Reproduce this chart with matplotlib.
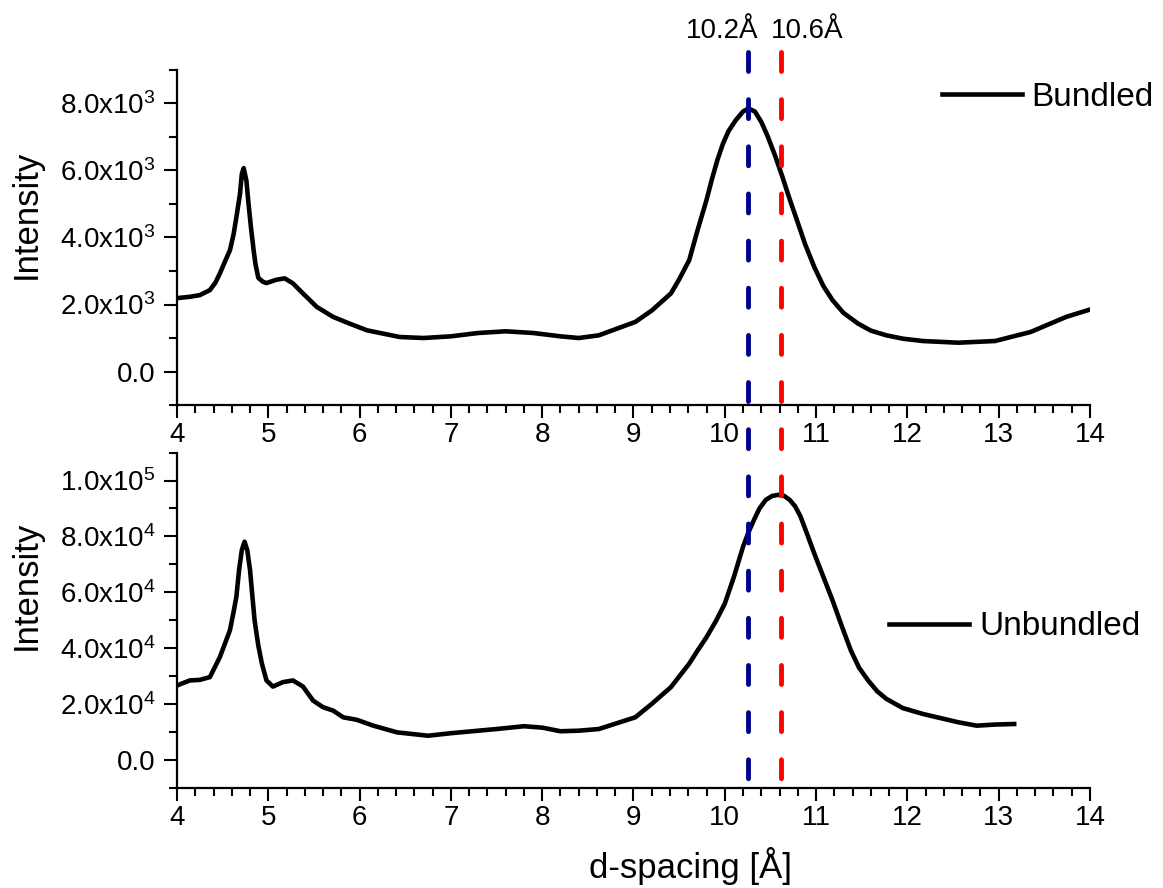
import numpy as np
import matplotlib
matplotlib.use("Agg")
import matplotlib.pyplot as plt
from matplotlib.ticker import MultipleLocator, FuncFormatter
from matplotlib.lines import Line2D
import matplotlib.transforms as mtransforms

plt.rcParams['font.family'] = ['Liberation Sans', 'DejaVu Sans']

# Bundled sample
d_bundled = [4.00, 4.14, 4.25, 4.36, 4.42, 4.47, 4.52, 4.58, 4.62, 4.65, 4.69, 4.71,
             4.73, 4.76, 4.78, 4.81, 4.84, 4.86, 4.89, 4.94, 4.98, 5.09, 5.18, 5.27,
             5.38, 5.53, 5.71, 5.89, 6.08, 6.44, 6.70, 7.00, 7.30, 7.60, 7.90, 8.20,
             8.40, 8.62, 9.02, 9.20, 9.41, 9.50, 9.61, 9.70, 9.80, 9.86, 9.92, 9.98,
             10.04, 10.12, 10.20, 10.26, 10.33, 10.40, 10.47, 10.55, 10.63, 10.71,
             10.79, 10.88, 10.98, 11.08, 11.18, 11.30, 11.46, 11.60, 11.77, 11.95,
             12.17, 12.56, 12.96, 13.35, 13.74, 14.00]
i_bundled = [2190, 2230, 2280, 2430, 2650, 2930, 3250, 3620, 4100, 4600, 5300, 5900,
             6070, 5700, 5100, 4300, 3600, 3200, 2800, 2680, 2640, 2740, 2780, 2630,
             2330, 1930, 1630, 1430, 1230, 1030, 1000, 1050, 1150, 1200, 1150, 1050,
             1000, 1080, 1480, 1820, 2330, 2750, 3320, 4200, 5120, 5750, 6320, 6800,
             7170, 7500, 7760, 7850, 7760, 7450, 7020, 6450, 5820, 5150,
             4520, 3800, 3120, 2550, 2130, 1750, 1430, 1220, 1080, 980,
             910, 860, 910, 1180, 1630, 1850]

# Unbundled sample
d_unbundled = [4.00, 4.14, 4.25, 4.36, 4.47, 4.58, 4.62, 4.65, 4.68, 4.71, 4.74, 4.77,
               4.80, 4.83, 4.85, 4.89, 4.93, 4.98, 5.05, 5.16, 5.27, 5.38, 5.49, 5.60,
               5.71, 5.82, 5.97, 6.15, 6.41, 6.75, 7.00, 7.50, 7.80, 8.00, 8.20, 8.40,
               8.62, 9.02, 9.20, 9.41, 9.61, 9.70, 9.80, 9.90, 10.00, 10.10, 10.20,
               10.26, 10.32, 10.38, 10.45, 10.52, 10.59, 10.65, 10.71, 10.77, 10.83,
               10.90, 10.98, 11.08, 11.18, 11.28, 11.38, 11.47, 11.57, 11.67, 11.77,
               11.95, 12.17, 12.56, 12.76, 12.96, 13.17]
i_unbundled = [26600, 28400, 28600, 29600, 36800, 46400, 53000, 58300, 68000, 75100,
               78100, 75000, 67900, 57000, 49900, 41000, 34400, 28400, 26200, 27800,
               28400, 26200, 21200, 18800, 17600, 15200, 14300, 12200, 9800, 8600,
               9500, 11000, 12000, 11500, 10200, 10400, 11000, 15200, 20000, 26000,
               34400, 39000, 43900, 49500, 55900, 65500, 76300, 81500, 85900, 90000,
               93100, 94500, 94900, 94500, 93100, 90800, 87100, 81000, 73900, 65500,
               57100, 48000, 39200, 33000, 28400, 24500, 21800, 18500, 16400, 13400,
               12200, 12600, 12800]

peak_positions = [10.25, 10.62]
peak_labels = ['10.2Å', '10.6Å']
peak_colors = ['#00008B', '#FF0000']


def sci_fmt(v, pos):
    if v == 0:
        return '0.0'
    e = int(np.floor(np.log10(abs(v))))
    m = v / 10 ** e
    return r'$\mathregular{%.1fx10^{%d}}$' % (m, e)


def style_axis(ax, ymin, ymax, ystep):
    ax.set_xlim(4, 14)
    ax.set_ylim(ymin, ymax)
    ax.xaxis.set_major_locator(MultipleLocator(1))
    ax.xaxis.set_minor_locator(MultipleLocator(0.2))
    ax.yaxis.set_major_locator(MultipleLocator(ystep))
    ax.yaxis.set_minor_locator(MultipleLocator(ystep / 2))
    ax.yaxis.set_major_formatter(FuncFormatter(sci_fmt))
    for s in ['top', 'right']:
        ax.spines[s].set_visible(False)
    for s in ['left', 'bottom']:
        ax.spines[s].set_linewidth(1.6)
    ax.tick_params(which='major', direction='out', length=9.5, width=1.5, labelsize=20)
    ax.tick_params(which='minor', direction='out', length=5.5, width=1.5)
    ax.tick_params(axis='y', pad=6)
    ax.tick_params(axis='x', pad=3)


fig = plt.figure(figsize=(11.63, 8.88), dpi=100)
ax1 = fig.add_axes([0.1522, 0.5439, 0.7850, 0.3773])
ax2 = fig.add_axes([0.1522, 0.1130, 0.7850, 0.3773])

ax1.plot(d_bundled, i_bundled, color='black', lw=3.3, label='Bundled')
ax2.plot(d_unbundled, i_unbundled, color='black', lw=3.3, label='Unbundled')

style_axis(ax1, -1000, 9000, 2000)
style_axis(ax2, -10000, 110000, 20000)

ax1.set_ylabel('Intensity', fontsize=25)
ax2.set_ylabel('Intensity', fontsize=25)
ax1.yaxis.set_label_coords(-0.147, 0.57)
ax2.yaxis.set_label_coords(-0.147, 0.605)
ax2.set_xlabel('d-spacing [Å]', fontsize=25)
ax2.xaxis.set_label_coords(0.562, -0.177)

ax1.legend(frameon=False, fontsize=24, handlelength=2.4, handletextpad=0.3,
           loc='center left', bbox_to_anchor=(0.8376, 0.9185),
           borderaxespad=0, borderpad=0)
ax2.legend(frameon=False, fontsize=24, handlelength=2.4, handletextpad=0.3,
           loc='center left', bbox_to_anchor=(0.7798, 0.4797),
           borderaxespad=0, borderpad=0)

# dashed peak markers running across both panels
trans = mtransforms.blended_transform_factory(ax2.transData, fig.transFigure)
y_top = 1 - 52 / 888
y_bot = ax2.get_position().y0
for xp, col in zip(peak_positions, peak_colors):
    ln = Line2D([xp, xp], [y_top, y_bot], transform=trans, color=col, lw=3.5,
                linestyle=(0, (3.9, 5.8)), dash_capstyle='round', zorder=5)
    fig.add_artist(ln)

fig.text(peak_positions[0] + 0.12, 1 - 38 / 888, peak_labels[0], transform=trans,
         ha='right', va='baseline', fontsize=20)
fig.text(peak_positions[1] - 0.12, 1 - 38 / 888, peak_labels[1], transform=trans,
         ha='left', va='baseline', fontsize=20)

fig.savefig('out.png', dpi=100)
